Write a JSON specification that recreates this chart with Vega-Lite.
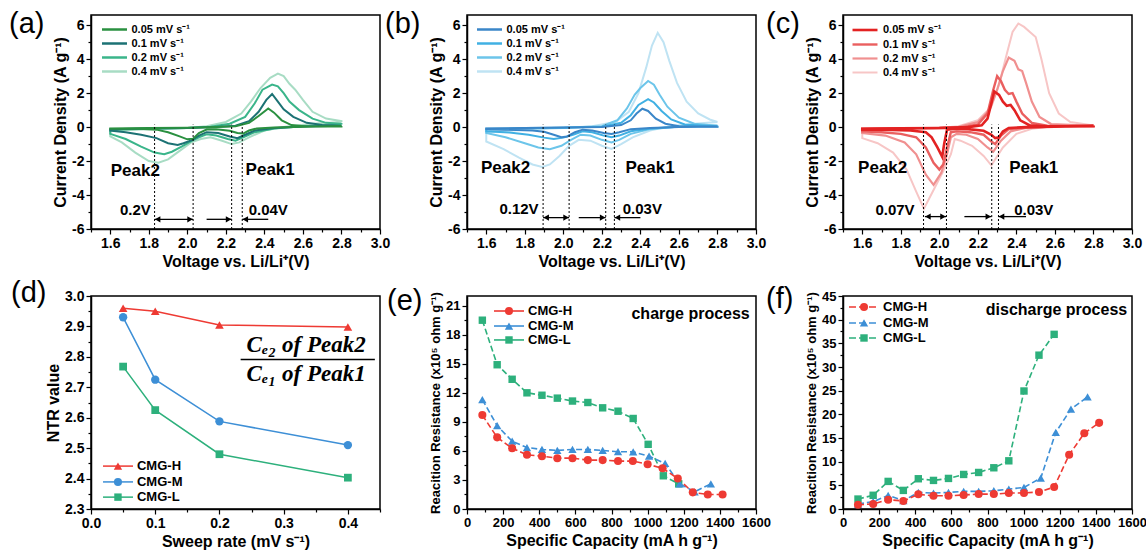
{
"$schema": "https://vega.github.io/schema/vega-lite/v6.json",
"background": "white",
"padding": {"left": 8, "top": 9, "right": 0, "bottom": 0},
"config": {
 "font": "Liberation Sans",
 "view": {"stroke": "black", "strokeWidth": 1.5},
 "axis": {"grid": false, "domainColor": "black", "domainWidth": 1.5, "tickColor": "black", "tickWidth": 1.2, "labelColor": "black", "labelFont": "Liberation Sans", "labelFontWeight": "bold", "labelFontSize": 14, "titleFont": "Liberation Sans", "titleFontWeight": "bold", "titleFontSize": 16, "titleColor": "black", "labelPadding": 2, "titlePadding": 3, "labelFlush": false, "labelOverlap": false},
 "legend": {"labelColor": "black", "labelFont": "Liberation Sans"}
},
"datasets": {
 "one": [{}],
 "cvA": [
  {"r":"0.4","v":2.8,"i":0.3},{"r":"0.4","v":2.65,"i":0.2},{"r":"0.4","v":2.5,"i":0.0},{"r":"0.4","v":2.4,"i":-0.2},{"r":"0.4","v":2.32,"i":-0.6},{"r":"0.4","v":2.27,"i":-0.9},{"r":"0.4","v":2.23,"i":-1.0},{"r":"0.4","v":2.18,"i":-0.8},{"r":"0.4","v":2.12,"i":-0.6},{"r":"0.4","v":2.07,"i":-0.7},{"r":"0.4","v":2.02,"i":-0.9},{"r":"0.4","v":1.96,"i":-1.4},{"r":"0.4","v":1.9,"i":-1.9},{"r":"0.4","v":1.85,"i":-2.1},{"r":"0.4","v":1.8,"i":-2.0},{"r":"0.4","v":1.73,"i":-1.5},{"r":"0.4","v":1.66,"i":-0.9},{"r":"0.4","v":1.6,"i":-0.55},{"r":"0.4","v":1.6,"i":-0.2},{"r":"0.4","v":1.8,"i":-0.12},{"r":"0.4","v":2.0,"i":-0.05},{"r":"0.4","v":2.1,"i":0.05},{"r":"0.4","v":2.2,"i":0.3},{"r":"0.4","v":2.28,"i":0.8},{"r":"0.4","v":2.33,"i":1.5},{"r":"0.4","v":2.38,"i":2.3},{"r":"0.4","v":2.43,"i":2.9},{"r":"0.4","v":2.47,"i":3.15},{"r":"0.4","v":2.5,"i":3.0},{"r":"0.4","v":2.53,"i":2.55},{"r":"0.4","v":2.56,"i":2.2},{"r":"0.4","v":2.6,"i":1.6},{"r":"0.4","v":2.65,"i":0.9},{"r":"0.4","v":2.72,"i":0.5},{"r":"0.4","v":2.8,"i":0.35},{"r":"0.4","v":2.8,"i":0.3},
  {"r":"0.2","v":2.8,"i":0.15},{"r":"0.2","v":2.6,"i":0.05},{"r":"0.2","v":2.45,"i":-0.08},{"r":"0.2","v":2.35,"i":-0.3},{"r":"0.2","v":2.29,"i":-0.6},{"r":"0.2","v":2.25,"i":-0.8},{"r":"0.2","v":2.21,"i":-0.7},{"r":"0.2","v":2.15,"i":-0.5},{"r":"0.2","v":2.1,"i":-0.42},{"r":"0.2","v":2.06,"i":-0.6},{"r":"0.2","v":2.02,"i":-0.82},{"r":"0.2","v":1.97,"i":-1.15},{"r":"0.2","v":1.92,"i":-1.45},{"r":"0.2","v":1.88,"i":-1.6},{"r":"0.2","v":1.83,"i":-1.5},{"r":"0.2","v":1.76,"i":-1.15},{"r":"0.2","v":1.68,"i":-0.7},{"r":"0.2","v":1.6,"i":-0.4},{"r":"0.2","v":1.6,"i":-0.15},{"r":"0.2","v":1.8,"i":-0.1},{"r":"0.2","v":2.0,"i":-0.05},{"r":"0.2","v":2.12,"i":0.02},{"r":"0.2","v":2.22,"i":0.2},{"r":"0.2","v":2.3,"i":0.6},{"r":"0.2","v":2.35,"i":1.4},{"r":"0.2","v":2.39,"i":2.2},{"r":"0.2","v":2.44,"i":2.5},{"r":"0.2","v":2.47,"i":2.4},{"r":"0.2","v":2.5,"i":2.0},{"r":"0.2","v":2.53,"i":1.5},{"r":"0.2","v":2.58,"i":1.0},{"r":"0.2","v":2.65,"i":0.5},{"r":"0.2","v":2.72,"i":0.25},{"r":"0.2","v":2.8,"i":0.18},{"r":"0.2","v":2.8,"i":0.15},
  {"r":"0.1","v":2.8,"i":0.08},{"r":"0.1","v":2.6,"i":0.03},{"r":"0.1","v":2.45,"i":-0.05},{"r":"0.1","v":2.35,"i":-0.2},{"r":"0.1","v":2.3,"i":-0.45},{"r":"0.1","v":2.26,"i":-0.65},{"r":"0.1","v":2.22,"i":-0.55},{"r":"0.1","v":2.16,"i":-0.35},{"r":"0.1","v":2.1,"i":-0.3},{"r":"0.1","v":2.06,"i":-0.5},{"r":"0.1","v":2.02,"i":-0.78},{"r":"0.1","v":1.98,"i":-0.95},{"r":"0.1","v":1.95,"i":-1.05},{"r":"0.1","v":1.9,"i":-0.95},{"r":"0.1","v":1.84,"i":-0.65},{"r":"0.1","v":1.76,"i":-0.45},{"r":"0.1","v":1.68,"i":-0.3},{"r":"0.1","v":1.6,"i":-0.2},{"r":"0.1","v":1.6,"i":-0.12},{"r":"0.1","v":1.8,"i":-0.08},{"r":"0.1","v":2.0,"i":-0.05},{"r":"0.1","v":2.15,"i":0.0},{"r":"0.1","v":2.25,"i":0.08},{"r":"0.1","v":2.32,"i":0.35},{"r":"0.1","v":2.37,"i":0.9},{"r":"0.1","v":2.41,"i":1.6},{"r":"0.1","v":2.44,"i":1.95},{"r":"0.1","v":2.47,"i":1.5},{"r":"0.1","v":2.5,"i":1.05},{"r":"0.1","v":2.55,"i":0.6},{"r":"0.1","v":2.62,"i":0.25},{"r":"0.1","v":2.7,"i":0.12},{"r":"0.1","v":2.8,"i":0.08},
  {"r":"0.05","v":2.8,"i":0.06},{"r":"0.05","v":2.6,"i":0.02},{"r":"0.05","v":2.45,"i":-0.02},{"r":"0.05","v":2.36,"i":-0.08},{"r":"0.05","v":2.32,"i":-0.2},{"r":"0.05","v":2.29,"i":-0.38},{"r":"0.05","v":2.26,"i":-0.35},{"r":"0.05","v":2.22,"i":-0.22},{"r":"0.05","v":2.15,"i":-0.12},{"r":"0.05","v":2.1,"i":-0.14},{"r":"0.05","v":2.06,"i":-0.35},{"r":"0.05","v":2.03,"i":-0.68},{"r":"0.05","v":2.0,"i":-0.72},{"r":"0.05","v":1.96,"i":-0.55},{"r":"0.05","v":1.9,"i":-0.3},{"r":"0.05","v":1.84,"i":-0.15},{"r":"0.05","v":1.75,"i":-0.1},{"r":"0.05","v":1.6,"i":-0.1},{"r":"0.05","v":1.6,"i":-0.08},{"r":"0.05","v":1.8,"i":-0.06},{"r":"0.05","v":2.0,"i":-0.04},{"r":"0.05","v":2.15,"i":0.0},{"r":"0.05","v":2.25,"i":0.05},{"r":"0.05","v":2.32,"i":0.25},{"r":"0.05","v":2.37,"i":0.65},{"r":"0.05","v":2.42,"i":1.1},{"r":"0.05","v":2.45,"i":0.85},{"r":"0.05","v":2.49,"i":0.4},{"r":"0.05","v":2.54,"i":0.12},{"r":"0.05","v":2.62,"i":0.04},{"r":"0.05","v":2.8,"i":0.04},{"r":"0.05","v":2.8,"i":0.06}
 ],
 "cvB": [
  {"r":"0.4","v":2.8,"i":0.3},{"r":"0.4","v":2.68,"i":0.2},{"r":"0.4","v":2.55,"i":0.05},{"r":"0.4","v":2.45,"i":-0.2},{"r":"0.4","v":2.36,"i":-0.6},{"r":"0.4","v":2.3,"i":-1.0},{"r":"0.4","v":2.25,"i":-1.28},{"r":"0.4","v":2.2,"i":-1.1},{"r":"0.4","v":2.14,"i":-0.8},{"r":"0.4","v":2.08,"i":-0.75},{"r":"0.4","v":2.03,"i":-1.1},{"r":"0.4","v":1.98,"i":-1.7},{"r":"0.4","v":1.93,"i":-2.2},{"r":"0.4","v":1.89,"i":-2.35},{"r":"0.4","v":1.84,"i":-2.2},{"r":"0.4","v":1.77,"i":-1.8},{"r":"0.4","v":1.69,"i":-1.3},{"r":"0.4","v":1.6,"i":-0.85},{"r":"0.4","v":1.6,"i":-0.3},{"r":"0.4","v":1.8,"i":-0.15},{"r":"0.4","v":2.0,"i":-0.05},{"r":"0.4","v":2.15,"i":0.05},{"r":"0.4","v":2.27,"i":0.3},{"r":"0.4","v":2.34,"i":0.9},{"r":"0.4","v":2.39,"i":2.0},{"r":"0.4","v":2.43,"i":3.5},{"r":"0.4","v":2.46,"i":4.8},{"r":"0.4","v":2.49,"i":5.55},{"r":"0.4","v":2.52,"i":5.0},{"r":"0.4","v":2.55,"i":3.9},{"r":"0.4","v":2.59,"i":2.6},{"r":"0.4","v":2.64,"i":1.5},{"r":"0.4","v":2.7,"i":0.8},{"r":"0.4","v":2.76,"i":0.45},{"r":"0.4","v":2.8,"i":0.3},
  {"r":"0.2","v":2.8,"i":0.1},{"r":"0.2","v":2.6,"i":0.03},{"r":"0.2","v":2.45,"i":-0.12},{"r":"0.2","v":2.35,"i":-0.4},{"r":"0.2","v":2.29,"i":-0.75},{"r":"0.2","v":2.25,"i":-0.9},{"r":"0.2","v":2.2,"i":-0.75},{"r":"0.2","v":2.14,"i":-0.5},{"r":"0.2","v":2.09,"i":-0.45},{"r":"0.2","v":2.04,"i":-0.75},{"r":"0.2","v":1.99,"i":-1.1},{"r":"0.2","v":1.93,"i":-1.3},{"r":"0.2","v":1.87,"i":-1.2},{"r":"0.2","v":1.8,"i":-0.95},{"r":"0.2","v":1.7,"i":-0.6},{"r":"0.2","v":1.6,"i":-0.35},{"r":"0.2","v":1.6,"i":-0.15},{"r":"0.2","v":1.8,"i":-0.08},{"r":"0.2","v":2.0,"i":-0.04},{"r":"0.2","v":2.2,"i":0.05},{"r":"0.2","v":2.28,"i":0.4},{"r":"0.2","v":2.33,"i":1.1},{"r":"0.2","v":2.37,"i":1.9},{"r":"0.2","v":2.4,"i":2.3},{"r":"0.2","v":2.44,"i":2.72},{"r":"0.2","v":2.47,"i":2.5},{"r":"0.2","v":2.5,"i":1.9},{"r":"0.2","v":2.54,"i":1.2},{"r":"0.2","v":2.6,"i":0.55},{"r":"0.2","v":2.68,"i":0.2},{"r":"0.2","v":2.8,"i":0.08},{"r":"0.2","v":2.8,"i":0.1},
  {"r":"0.1","v":2.8,"i":0.05},{"r":"0.1","v":2.6,"i":0.02},{"r":"0.1","v":2.45,"i":-0.08},{"r":"0.1","v":2.35,"i":-0.25},{"r":"0.1","v":2.29,"i":-0.5},{"r":"0.1","v":2.25,"i":-0.6},{"r":"0.1","v":2.21,"i":-0.5},{"r":"0.1","v":2.15,"i":-0.3},{"r":"0.1","v":2.1,"i":-0.25},{"r":"0.1","v":2.05,"i":-0.45},{"r":"0.1","v":2.0,"i":-0.62},{"r":"0.1","v":1.95,"i":-0.7},{"r":"0.1","v":1.9,"i":-0.62},{"r":"0.1","v":1.82,"i":-0.45},{"r":"0.1","v":1.72,"i":-0.32},{"r":"0.1","v":1.6,"i":-0.25},{"r":"0.1","v":1.6,"i":-0.1},{"r":"0.1","v":1.8,"i":-0.06},{"r":"0.1","v":2.0,"i":-0.04},{"r":"0.1","v":2.2,"i":0.02},{"r":"0.1","v":2.3,"i":0.25},{"r":"0.1","v":2.35,"i":0.7},{"r":"0.1","v":2.39,"i":1.3},{"r":"0.1","v":2.44,"i":1.65},{"r":"0.1","v":2.47,"i":1.45},{"r":"0.1","v":2.51,"i":0.95},{"r":"0.1","v":2.56,"i":0.45},{"r":"0.1","v":2.63,"i":0.15},{"r":"0.1","v":2.8,"i":0.04},{"r":"0.1","v":2.8,"i":0.05},
  {"r":"0.05","v":2.8,"i":0.03},{"r":"0.05","v":2.6,"i":0.0},{"r":"0.05","v":2.45,"i":-0.05},{"r":"0.05","v":2.35,"i":-0.12},{"r":"0.05","v":2.29,"i":-0.3},{"r":"0.05","v":2.25,"i":-0.4},{"r":"0.05","v":2.21,"i":-0.35},{"r":"0.05","v":2.15,"i":-0.2},{"r":"0.05","v":2.1,"i":-0.15},{"r":"0.05","v":2.06,"i":-0.3},{"r":"0.05","v":2.02,"i":-0.55},{"r":"0.05","v":1.99,"i":-0.6},{"r":"0.05","v":1.95,"i":-0.45},{"r":"0.05","v":1.9,"i":-0.28},{"r":"0.05","v":1.84,"i":-0.2},{"r":"0.05","v":1.7,"i":-0.15},{"r":"0.05","v":1.6,"i":-0.12},{"r":"0.05","v":1.6,"i":-0.08},{"r":"0.05","v":1.8,"i":-0.05},{"r":"0.05","v":2.0,"i":-0.03},{"r":"0.05","v":2.2,"i":0.0},{"r":"0.05","v":2.3,"i":0.12},{"r":"0.05","v":2.35,"i":0.4},{"r":"0.05","v":2.38,"i":0.8},{"r":"0.05","v":2.41,"i":1.08},{"r":"0.05","v":2.44,"i":0.95},{"r":"0.05","v":2.48,"i":0.5},{"r":"0.05","v":2.53,"i":0.2},{"r":"0.05","v":2.6,"i":0.05},{"r":"0.05","v":2.8,"i":0.02},{"r":"0.05","v":2.8,"i":0.03}
 ],
 "cvC": [
  {"r":"0.4","v":2.8,"i":0.12},{"r":"0.4","v":2.6,"i":0.06},{"r":"0.4","v":2.48,"i":-0.1},{"r":"0.4","v":2.4,"i":-0.4},{"r":"0.4","v":2.33,"i":-1.2},{"r":"0.4","v":2.27,"i":-2.25},{"r":"0.4","v":2.23,"i":-1.7},{"r":"0.4","v":2.17,"i":-1.1},{"r":"0.4","v":2.11,"i":-0.8},{"r":"0.4","v":2.08,"i":-0.7},{"r":"0.4","v":2.06,"i":-1.6},{"r":"0.4","v":2.02,"i":-2.6},{"r":"0.4","v":1.97,"i":-3.7},{"r":"0.4","v":1.92,"i":-4.8},{"r":"0.4","v":1.88,"i":-3.8},{"r":"0.4","v":1.83,"i":-2.5},{"r":"0.4","v":1.76,"i":-1.5},{"r":"0.4","v":1.68,"i":-0.95},{"r":"0.4","v":1.6,"i":-0.65},{"r":"0.4","v":1.6,"i":-0.2},{"r":"0.4","v":1.8,"i":-0.1},{"r":"0.4","v":2.0,"i":-0.05},{"r":"0.4","v":2.1,"i":0.05},{"r":"0.4","v":2.2,"i":0.4},{"r":"0.4","v":2.27,"i":1.2},{"r":"0.4","v":2.31,"i":2.5},{"r":"0.4","v":2.35,"i":4.3},{"r":"0.4","v":2.38,"i":5.6},{"r":"0.4","v":2.41,"i":6.1},{"r":"0.4","v":2.44,"i":5.9},{"r":"0.4","v":2.47,"i":5.6},{"r":"0.4","v":2.5,"i":5.3},{"r":"0.4","v":2.53,"i":4.0},{"r":"0.4","v":2.57,"i":2.0},{"r":"0.4","v":2.62,"i":0.8},{"r":"0.4","v":2.68,"i":0.3},{"r":"0.4","v":2.8,"i":0.1},{"r":"0.4","v":2.8,"i":0.12},
  {"r":"0.2","v":2.8,"i":0.1},{"r":"0.2","v":2.6,"i":0.04},{"r":"0.2","v":2.45,"i":-0.05},{"r":"0.2","v":2.37,"i":-0.25},{"r":"0.2","v":2.32,"i":-0.8},{"r":"0.2","v":2.28,"i":-1.45},{"r":"0.2","v":2.25,"i":-1.2},{"r":"0.2","v":2.2,"i":-0.7},{"r":"0.2","v":2.14,"i":-0.45},{"r":"0.2","v":2.09,"i":-0.4},{"r":"0.2","v":2.06,"i":-0.6},{"r":"0.2","v":2.04,"i":-1.6},{"r":"0.2","v":2.01,"i":-2.7},{"r":"0.2","v":1.97,"i":-3.4},{"r":"0.2","v":1.93,"i":-2.8},{"r":"0.2","v":1.88,"i":-1.6},{"r":"0.2","v":1.82,"i":-0.9},{"r":"0.2","v":1.72,"i":-0.5},{"r":"0.2","v":1.6,"i":-0.35},{"r":"0.2","v":1.6,"i":-0.12},{"r":"0.2","v":1.8,"i":-0.08},{"r":"0.2","v":2.0,"i":-0.05},{"r":"0.2","v":2.1,"i":0.02},{"r":"0.2","v":2.2,"i":0.3},{"r":"0.2","v":2.26,"i":1.0},{"r":"0.2","v":2.3,"i":2.2},{"r":"0.2","v":2.33,"i":3.3},{"r":"0.2","v":2.36,"i":4.1},{"r":"0.2","v":2.39,"i":3.9},{"r":"0.2","v":2.41,"i":3.4},{"r":"0.2","v":2.43,"i":3.3},{"r":"0.2","v":2.45,"i":2.6},{"r":"0.2","v":2.48,"i":1.5},{"r":"0.2","v":2.52,"i":0.6},{"r":"0.2","v":2.58,"i":0.18},{"r":"0.2","v":2.8,"i":0.08},{"r":"0.2","v":2.8,"i":0.1},
  {"r":"0.1","v":2.8,"i":0.08},{"r":"0.1","v":2.6,"i":0.03},{"r":"0.1","v":2.45,"i":-0.02},{"r":"0.1","v":2.36,"i":-0.12},{"r":"0.1","v":2.32,"i":-0.5},{"r":"0.1","v":2.29,"i":-1.0},{"r":"0.1","v":2.27,"i":-0.85},{"r":"0.1","v":2.23,"i":-0.45},{"r":"0.1","v":2.16,"i":-0.3},{"r":"0.1","v":2.09,"i":-0.25},{"r":"0.1","v":2.06,"i":-0.3},{"r":"0.1","v":2.04,"i":-1.2},{"r":"0.1","v":2.02,"i":-2.2},{"r":"0.1","v":2.0,"i":-2.5},{"r":"0.1","v":1.97,"i":-2.1},{"r":"0.1","v":1.93,"i":-1.2},{"r":"0.1","v":1.88,"i":-0.6},{"r":"0.1","v":1.8,"i":-0.4},{"r":"0.1","v":1.7,"i":-0.3},{"r":"0.1","v":1.6,"i":-0.25},{"r":"0.1","v":1.6,"i":-0.1},{"r":"0.1","v":1.8,"i":-0.07},{"r":"0.1","v":2.0,"i":-0.05},{"r":"0.1","v":2.12,"i":0.0},{"r":"0.1","v":2.2,"i":0.15},{"r":"0.1","v":2.25,"i":0.8},{"r":"0.1","v":2.28,"i":2.2},{"r":"0.1","v":2.3,"i":3.0},{"r":"0.1","v":2.32,"i":2.7},{"r":"0.1","v":2.34,"i":2.2},{"r":"0.1","v":2.36,"i":1.95},{"r":"0.1","v":2.38,"i":2.0},{"r":"0.1","v":2.4,"i":1.5},{"r":"0.1","v":2.43,"i":0.8},{"r":"0.1","v":2.48,"i":0.25},{"r":"0.1","v":2.56,"i":0.08},{"r":"0.1","v":2.8,"i":0.06},{"r":"0.1","v":2.8,"i":0.08},
  {"r":"0.05","v":2.8,"i":0.08},{"r":"0.05","v":2.6,"i":0.03},{"r":"0.05","v":2.45,"i":0.0},{"r":"0.05","v":2.36,"i":-0.05},{"r":"0.05","v":2.33,"i":-0.25},{"r":"0.05","v":2.31,"i":-0.6},{"r":"0.05","v":2.29,"i":-0.65},{"r":"0.05","v":2.27,"i":-0.45},{"r":"0.05","v":2.23,"i":-0.22},{"r":"0.05","v":2.15,"i":-0.12},{"r":"0.05","v":2.08,"i":-0.1},{"r":"0.05","v":2.04,"i":-0.15},{"r":"0.05","v":2.025,"i":-1.0},{"r":"0.05","v":2.015,"i":-1.75},{"r":"0.05","v":1.99,"i":-1.2},{"r":"0.05","v":1.96,"i":-0.6},{"r":"0.05","v":1.93,"i":-0.3},{"r":"0.05","v":1.85,"i":-0.2},{"r":"0.05","v":1.7,"i":-0.15},{"r":"0.05","v":1.6,"i":-0.15},{"r":"0.05","v":1.6,"i":-0.1},{"r":"0.05","v":1.8,"i":-0.07},{"r":"0.05","v":2.0,"i":-0.05},{"r":"0.05","v":2.15,"i":0.0},{"r":"0.05","v":2.22,"i":0.1},{"r":"0.05","v":2.25,"i":0.5},{"r":"0.05","v":2.27,"i":1.4},{"r":"0.05","v":2.285,"i":2.1},{"r":"0.05","v":2.31,"i":1.9},{"r":"0.05","v":2.33,"i":1.5},{"r":"0.05","v":2.35,"i":1.25},{"r":"0.05","v":2.37,"i":1.3},{"r":"0.05","v":2.39,"i":1.0},{"r":"0.05","v":2.42,"i":0.4},{"r":"0.05","v":2.47,"i":0.1},{"r":"0.05","v":2.55,"i":0.04},{"r":"0.05","v":2.8,"i":0.05},{"r":"0.05","v":2.8,"i":0.08}
 ],
 "ntr": [
  {"g":"CMG-H","s":0.05,"n":2.96},{"g":"CMG-H","s":0.1,"n":2.95},{"g":"CMG-H","s":0.2,"n":2.905},{"g":"CMG-H","s":0.4,"n":2.898},
  {"g":"CMG-M","s":0.05,"n":2.93},{"g":"CMG-M","s":0.1,"n":2.725},{"g":"CMG-M","s":0.2,"n":2.588},{"g":"CMG-M","s":0.4,"n":2.51},
  {"g":"CMG-L","s":0.05,"n":2.768},{"g":"CMG-L","s":0.1,"n":2.625},{"g":"CMG-L","s":0.2,"n":2.48},{"g":"CMG-L","s":0.4,"n":2.403}
 ],
 "chg": [
  {"g":"CMG-L","c":85,"z":19.5},{"g":"CMG-L","c":167,"z":14.9},{"g":"CMG-L","c":250,"z":13.4},{"g":"CMG-L","c":332,"z":12.0},{"g":"CMG-L","c":415,"z":11.75},{"g":"CMG-L","c":500,"z":11.45},{"g":"CMG-L","c":584,"z":11.15},{"g":"CMG-L","c":669,"z":11.0},{"g":"CMG-L","c":751,"z":10.45},{"g":"CMG-L","c":836,"z":10.1},{"g":"CMG-L","c":920,"z":9.35},{"g":"CMG-L","c":1003,"z":6.68},{"g":"CMG-L","c":1087,"z":3.43},{"g":"CMG-L","c":1172,"z":2.6},
  {"g":"CMG-M","c":85,"z":11.3},{"g":"CMG-M","c":167,"z":8.6},{"g":"CMG-M","c":250,"z":7.0},{"g":"CMG-M","c":332,"z":6.35},{"g":"CMG-M","c":415,"z":6.15},{"g":"CMG-M","c":500,"z":6.05},{"g":"CMG-M","c":584,"z":6.15},{"g":"CMG-M","c":669,"z":6.15},{"g":"CMG-M","c":751,"z":6.05},{"g":"CMG-M","c":836,"z":5.92},{"g":"CMG-M","c":920,"z":5.9},{"g":"CMG-M","c":1008,"z":5.45},{"g":"CMG-M","c":1097,"z":4.7},{"g":"CMG-M","c":1178,"z":2.6},{"g":"CMG-M","c":1260,"z":1.78},{"g":"CMG-M","c":1350,"z":2.6},
  {"g":"CMG-H","c":85,"z":9.7},{"g":"CMG-H","c":167,"z":7.4},{"g":"CMG-H","c":250,"z":6.27},{"g":"CMG-H","c":332,"z":5.6},{"g":"CMG-H","c":415,"z":5.45},{"g":"CMG-H","c":500,"z":5.25},{"g":"CMG-H","c":584,"z":5.25},{"g":"CMG-H","c":669,"z":5.05},{"g":"CMG-H","c":751,"z":5.05},{"g":"CMG-H","c":836,"z":4.95},{"g":"CMG-H","c":918,"z":4.95},{"g":"CMG-H","c":1000,"z":4.62},{"g":"CMG-H","c":1083,"z":4.2},{"g":"CMG-H","c":1167,"z":3.15},{"g":"CMG-H","c":1250,"z":1.72},{"g":"CMG-H","c":1333,"z":1.5},{"g":"CMG-H","c":1415,"z":1.5}
 ],
 "dis": [
  {"g":"CMG-L","c":83,"z":2.1},{"g":"CMG-L","c":167,"z":2.9},{"g":"CMG-L","c":250,"z":5.83},{"g":"CMG-L","c":334,"z":3.93},{"g":"CMG-L","c":417,"z":6.39},{"g":"CMG-L","c":501,"z":6.04},{"g":"CMG-L","c":584,"z":6.46},{"g":"CMG-L","c":668,"z":7.3},{"g":"CMG-L","c":751,"z":7.72},{"g":"CMG-L","c":835,"z":8.71},{"g":"CMG-L","c":918,"z":10.18},{"g":"CMG-L","c":1002,"z":24.93},{"g":"CMG-L","c":1085,"z":32.5},{"g":"CMG-L","c":1169,"z":36.9},
  {"g":"CMG-M","c":83,"z":1.05},{"g":"CMG-M","c":167,"z":1.55},{"g":"CMG-M","c":250,"z":2.88},{"g":"CMG-M","c":334,"z":1.76},{"g":"CMG-M","c":417,"z":3.5},{"g":"CMG-M","c":501,"z":3.37},{"g":"CMG-M","c":584,"z":3.5},{"g":"CMG-M","c":668,"z":3.72},{"g":"CMG-M","c":751,"z":3.72},{"g":"CMG-M","c":835,"z":3.86},{"g":"CMG-M","c":918,"z":4.2},{"g":"CMG-M","c":1002,"z":4.56},{"g":"CMG-M","c":1095,"z":6.53},{"g":"CMG-M","c":1178,"z":16.2},{"g":"CMG-M","c":1262,"z":21.1},{"g":"CMG-M","c":1354,"z":23.7},
  {"g":"CMG-H","c":83,"z":0.9},{"g":"CMG-H","c":167,"z":1.05},{"g":"CMG-H","c":250,"z":1.97},{"g":"CMG-H","c":334,"z":1.7},{"g":"CMG-H","c":417,"z":3.1},{"g":"CMG-H","c":501,"z":2.8},{"g":"CMG-H","c":584,"z":2.8},{"g":"CMG-H","c":668,"z":2.95},{"g":"CMG-H","c":751,"z":3.15},{"g":"CMG-H","c":835,"z":3.15},{"g":"CMG-H","c":918,"z":3.37},{"g":"CMG-H","c":1002,"z":3.4},{"g":"CMG-H","c":1085,"z":3.6},{"g":"CMG-H","c":1169,"z":4.63},{"g":"CMG-H","c":1252,"z":11.45},{"g":"CMG-H","c":1336,"z":16.0},{"g":"CMG-H","c":1418,"z":18.2}
 ]
},
"columns": 3,
"spacing": {"row": 67, "column": 87},
"bounds": "flush",
"resolve": {"scale": {"color": "independent", "shape": "independent", "strokeWidth": "independent"}},
"concat": [
  {"width": 289, "height": 214,
   "title": {"text": "(a)", "anchor": "start", "frame": "group", "dx": -82, "dy": 47, "offset": 0, "baseline": "alphabetic", "fontSize": 29, "fontWeight": "normal", "color": "black"},
   "layer": [
    {"data": {"name": "cvA"}, "mark": {"type": "line", "strokeWidth": 2}, "encoding": {
      "x": {"field": "v", "type": "quantitative", "scale": {"domain": [1.5, 3.0], "nice": false, "zero": false}, "axis": {"title": "Voltage vs. Li/Li⁺(V)", "tickCount": 100, "labelOverlap": false, "values": [1.5,1.6,1.7,1.8,1.9,2.0,2.1,2.2,2.3,2.4,2.5,2.6,2.7,2.8,2.9,3.0], "labelExpr": "round(datum.value*10) % 2 == 0 ? format(datum.value, '.1f') : ''", "tickSize": {"condition": {"test": "round(datum.value*10) % 2 == 0", "value": 5}, "value": 3}}},
      "y": {"field": "i", "type": "quantitative", "scale": {"domain": [-6, 6.6], "nice": false, "zero": false}, "axis": {"title": "Current Density (A g⁻¹)", "tickCount": 100, "labelOverlap": false, "values": [-6,-5,-4,-3,-2,-1,0,1,2,3,4,5,6], "labelExpr": "datum.value % 2 == 0 ? '' + datum.value : ''", "tickSize": {"condition": {"test": "datum.value % 2 == 0", "value": 5}, "value": 3}}},
      "color": {"field": "r", "type": "nominal", "scale": {"domain": ["0.05","0.1","0.2","0.4"], "range": ["#2a9040","#1c7274","#3ab58a","#a8dcc4"]}, "legend": {"title": null, "orient": "none", "legendX": 16, "legendY": 7, "symbolType": "M-2,0H2", "symbolSize": 156, "symbolStrokeWidth": 2.5, "labelFontSize": 11, "labelFontWeight": "bold", "labelOffset": 9.5, "rowPadding": 1, "padding": 0, "labelExpr": "datum.label + ' mV s⁻¹'"}},
      "order": {"value": null}}},
    {"data": {"values": [{"v": 1.83}, {"v": 2.03}, {"v": 2.23}, {"v": 2.285}]}, "mark": {"type": "rule", "strokeDash": [2, 2], "strokeWidth": 1, "color": "black"}, "encoding": {"x": {"field": "v", "type": "quantitative"}, "y": {"datum": -6}, "y2": {"datum": 0.15}}},
    {"data": {"values": [{"v": 1.83, "v2": 2.03}, {"v": 2.1, "v2": 2.23}, {"v": 2.285, "v2": 2.42}]}, "mark": {"type": "rule", "strokeWidth": 1.3, "color": "black"}, "encoding": {"x": {"field": "v", "type": "quantitative"}, "x2": {"field": "v2"}, "y": {"datum": -5.43}}},
    {"data": {"values": [{"v": 1.846}, {"v": 2.301}]}, "mark": {"type": "point", "shape": "triangle-left", "filled": true, "color": "black", "size": 40, "opacity": 1}, "encoding": {"x": {"field": "v", "type": "quantitative"}, "y": {"datum": -5.43}}},
    {"data": {"values": [{"v": 2.014}, {"v": 2.214}]}, "mark": {"type": "point", "shape": "triangle-right", "filled": true, "color": "black", "size": 40, "opacity": 1}, "encoding": {"x": {"field": "v", "type": "quantitative"}, "y": {"datum": -5.43}}},
    {"data": {"values": [{"v": 1.73, "i": -2.6, "t": "Peak2"}, {"v": 2.43, "i": -2.55, "t": "Peak1"}]}, "mark": {"type": "text", "fontSize": 17, "fontWeight": "bold", "color": "black"}, "encoding": {"x": {"field": "v", "type": "quantitative"}, "y": {"field": "i", "type": "quantitative"}, "text": {"field": "t"}}},
    {"data": {"values": [{"v": 1.73, "i": -4.9, "t": "0.2V"}, {"v": 2.42, "i": -4.9, "t": "0.04V"}]}, "mark": {"type": "text", "fontSize": 15, "fontWeight": "bold", "color": "black"}, "encoding": {"x": {"field": "v", "type": "quantitative"}, "y": {"field": "i", "type": "quantitative"}, "text": {"field": "t"}}}
   ]},
  {"width": 289, "height": 214,
   "title": {"text": "(b)", "anchor": "start", "frame": "group", "dx": -82, "dy": 47, "offset": 0, "baseline": "alphabetic", "fontSize": 29, "fontWeight": "normal", "color": "black"},
   "layer": [
    {"data": {"name": "cvB"}, "mark": {"type": "line", "strokeWidth": 2}, "encoding": {
      "x": {"field": "v", "type": "quantitative", "scale": {"domain": [1.5, 3.0], "nice": false, "zero": false}, "axis": {"title": "Voltage vs. Li/Li⁺(V)", "tickCount": 100, "labelOverlap": false, "values": [1.5,1.6,1.7,1.8,1.9,2.0,2.1,2.2,2.3,2.4,2.5,2.6,2.7,2.8,2.9,3.0], "labelExpr": "round(datum.value*10) % 2 == 0 ? format(datum.value, '.1f') : ''", "tickSize": {"condition": {"test": "round(datum.value*10) % 2 == 0", "value": 5}, "value": 3}}},
      "y": {"field": "i", "type": "quantitative", "scale": {"domain": [-6, 6.6], "nice": false, "zero": false}, "axis": {"title": "Current Density (A g⁻¹)", "tickCount": 100, "labelOverlap": false, "values": [-6,-5,-4,-3,-2,-1,0,1,2,3,4,5,6], "labelExpr": "datum.value % 2 == 0 ? '' + datum.value : ''", "tickSize": {"condition": {"test": "datum.value % 2 == 0", "value": 5}, "value": 3}}},
      "color": {"field": "r", "type": "nominal", "scale": {"domain": ["0.05","0.1","0.2","0.4"], "range": ["#3a86c8","#40b0e3","#6cc5ea","#bfe3f3"]}, "legend": {"title": null, "orient": "none", "legendX": 15, "legendY": 7, "symbolType": "M-2,0H2", "symbolSize": 156, "symbolStrokeWidth": 2.5, "labelFontSize": 11, "labelFontWeight": "bold", "labelOffset": 9.5, "rowPadding": 1, "padding": 0, "labelExpr": "datum.label + ' mV s⁻¹'"}},
      "order": {"value": null}}},
    {"data": {"values": [{"v": 1.895}, {"v": 2.03}, {"v": 2.22}, {"v": 2.265}]}, "mark": {"type": "rule", "strokeDash": [2, 2], "strokeWidth": 1, "color": "black"}, "encoding": {"x": {"field": "v", "type": "quantitative"}, "y": {"datum": -6}, "y2": {"datum": 0.15}}},
    {"data": {"values": [{"v": 1.895, "v2": 2.03}, {"v": 2.08, "v2": 2.22}, {"v": 2.265, "v2": 2.4}]}, "mark": {"type": "rule", "strokeWidth": 1.3, "color": "black"}, "encoding": {"x": {"field": "v", "type": "quantitative"}, "x2": {"field": "v2"}, "y": {"datum": -5.33}}},
    {"data": {"values": [{"v": 1.911}, {"v": 2.281}]}, "mark": {"type": "point", "shape": "triangle-left", "filled": true, "color": "black", "size": 40, "opacity": 1}, "encoding": {"x": {"field": "v", "type": "quantitative"}, "y": {"datum": -5.33}}},
    {"data": {"values": [{"v": 2.014}, {"v": 2.204}]}, "mark": {"type": "point", "shape": "triangle-right", "filled": true, "color": "black", "size": 40, "opacity": 1}, "encoding": {"x": {"field": "v", "type": "quantitative"}, "y": {"datum": -5.33}}},
    {"data": {"values": [{"v": 1.7, "i": -2.4, "t": "Peak2"}, {"v": 2.45, "i": -2.4, "t": "Peak1"}]}, "mark": {"type": "text", "fontSize": 17, "fontWeight": "bold", "color": "black"}, "encoding": {"x": {"field": "v", "type": "quantitative"}, "y": {"field": "i", "type": "quantitative"}, "text": {"field": "t"}}},
    {"data": {"values": [{"v": 1.77, "i": -4.85, "t": "0.12V"}, {"v": 2.41, "i": -4.85, "t": "0.03V"}]}, "mark": {"type": "text", "fontSize": 15, "fontWeight": "bold", "color": "black"}, "encoding": {"x": {"field": "v", "type": "quantitative"}, "y": {"field": "i", "type": "quantitative"}, "text": {"field": "t"}}}
   ]},
  {"width": 289, "height": 214,
   "title": {"text": "(c)", "anchor": "start", "frame": "group", "dx": -77, "dy": 47, "offset": 0, "baseline": "alphabetic", "fontSize": 29, "fontWeight": "normal", "color": "black"},
   "layer": [
    {"data": {"name": "cvC"}, "mark": {"type": "line"}, "encoding": {
      "x": {"field": "v", "type": "quantitative", "scale": {"domain": [1.5, 3.0], "nice": false, "zero": false}, "axis": {"title": "Voltage vs. Li/Li⁺(V)", "tickCount": 100, "labelOverlap": false, "values": [1.5,1.6,1.7,1.8,1.9,2.0,2.1,2.2,2.3,2.4,2.5,2.6,2.7,2.8,2.9,3.0], "labelExpr": "round(datum.value*10) % 2 == 0 ? format(datum.value, '.1f') : ''", "tickSize": {"condition": {"test": "round(datum.value*10) % 2 == 0", "value": 5}, "value": 3}}},
      "y": {"field": "i", "type": "quantitative", "scale": {"domain": [-6, 6.6], "nice": false, "zero": false}, "axis": {"title": "Current Density (A g⁻¹)", "tickCount": 100, "labelOverlap": false, "values": [-6,-5,-4,-3,-2,-1,0,1,2,3,4,5,6], "labelExpr": "datum.value % 2 == 0 ? '' + datum.value : ''", "tickSize": {"condition": {"test": "datum.value % 2 == 0", "value": 5}, "value": 3}}},
      "color": {"field": "r", "type": "nominal", "scale": {"domain": ["0.05","0.1","0.2","0.4"], "range": ["#e32222","#ea5f5f","#f09090","#f7c6c6"]}, "legend": {"title": null, "orient": "none", "legendX": 14, "legendY": 7, "symbolType": "M-2,0H2", "symbolSize": 156, "symbolStrokeWidth": 2.5, "labelFontSize": 11, "labelFontWeight": "bold", "labelOffset": 10, "rowPadding": 1, "padding": 0, "labelExpr": "datum.label + ' mV s⁻¹'"}},
      "strokeWidth": {"field": "r", "type": "nominal", "scale": {"domain": ["0.05","0.1","0.2","0.4"], "range": [2.6, 2, 2, 2]}, "legend": null},
      "order": {"value": null}}},
    {"data": {"values": [{"v": 1.918}, {"v": 2.037}, {"v": 2.272}, {"v": 2.307}]}, "mark": {"type": "rule", "strokeDash": [2, 2], "strokeWidth": 1, "color": "black"}, "encoding": {"x": {"field": "v", "type": "quantitative"}, "y": {"datum": -6}, "y2": {"datum": 0.15}}},
    {"data": {"values": [{"v": 1.925, "v2": 2.035}, {"v": 2.13, "v2": 2.27}, {"v": 2.307, "v2": 2.45}]}, "mark": {"type": "rule", "strokeWidth": 1.3, "color": "black"}, "encoding": {"x": {"field": "v", "type": "quantitative"}, "x2": {"field": "v2"}, "y": {"datum": -5.27}}},
    {"data": {"values": [{"v": 1.941}, {"v": 2.323}]}, "mark": {"type": "point", "shape": "triangle-left", "filled": true, "color": "black", "size": 40, "opacity": 1}, "encoding": {"x": {"field": "v", "type": "quantitative"}, "y": {"datum": -5.27}}},
    {"data": {"values": [{"v": 2.019}, {"v": 2.254}]}, "mark": {"type": "point", "shape": "triangle-right", "filled": true, "color": "black", "size": 40, "opacity": 1}, "encoding": {"x": {"field": "v", "type": "quantitative"}, "y": {"datum": -5.27}}},
    {"data": {"values": [{"v": 1.706, "i": -2.43, "t": "Peak2"}, {"v": 2.49, "i": -2.43, "t": "Peak1"}]}, "mark": {"type": "text", "fontSize": 17, "fontWeight": "bold", "color": "black"}, "encoding": {"x": {"field": "v", "type": "quantitative"}, "y": {"field": "i", "type": "quantitative"}, "text": {"field": "t"}}},
    {"data": {"values": [{"v": 1.77, "i": -4.88, "t": "0.07V"}, {"v": 2.49, "i": -4.88, "t": "0.03V"}]}, "mark": {"type": "text", "fontSize": 15, "fontWeight": "bold", "color": "black"}, "encoding": {"x": {"field": "v", "type": "quantitative"}, "y": {"field": "i", "type": "quantitative"}, "text": {"field": "t"}}}
   ]},
  {"width": 289, "height": 213,
   "title": {"text": "(d)", "anchor": "start", "frame": "group", "dx": -80, "dy": 42, "offset": 0, "baseline": "alphabetic", "fontSize": 29, "fontWeight": "normal", "color": "black"},
   "layer": [
    {"data": {"name": "ntr"}, "mark": {"type": "line", "strokeWidth": 1.5}, "encoding": {
      "x": {"field": "s", "type": "quantitative", "scale": {"domain": [0, 0.45], "nice": false}, "axis": {"title": "Sweep rate (mV s⁻¹)", "tickCount": 100, "labelOverlap": false, "values": [0,0.05,0.1,0.15,0.2,0.25,0.3,0.35,0.4,0.45], "labelExpr": "round(datum.value*100) % 10 == 0 ? format(datum.value, '.1f') : ''", "tickSize": {"condition": {"test": "round(datum.value*100) % 10 == 0", "value": 5}, "value": 3}}},
      "y": {"field": "n", "type": "quantitative", "scale": {"domain": [2.3, 3.0], "nice": false, "zero": false}, "axis": {"title": "NTR value", "tickCount": 100, "labelOverlap": false, "values": [2.3,2.35,2.4,2.45,2.5,2.55,2.6,2.65,2.7,2.75,2.8,2.85,2.9,2.95,3.0], "labelExpr": "round(datum.value*100) % 10 == 0 ? format(datum.value, '.1f') : ''", "tickSize": {"condition": {"test": "round(datum.value*100) % 10 == 0", "value": 5}, "value": 3}}},
      "color": {"field": "g", "type": "nominal", "scale": {"domain": ["CMG-H","CMG-M","CMG-L"], "range": ["#ee3a33","#3d8fd6","#2db07c"]}, "legend": null}}},
    {"data": {"name": "ntr"}, "transform": [{"filter": "datum.g == 'CMG-H'"}], "mark": {"type": "point", "shape": "triangle-up", "filled": true, "size": 75, "opacity": 1}, "encoding": {"x": {"field": "s", "type": "quantitative"}, "y": {"field": "n", "type": "quantitative"}, "color": {"field": "g", "type": "nominal", "legend": null}}},
    {"data": {"name": "ntr"}, "transform": [{"filter": "datum.g == 'CMG-M'"}], "mark": {"type": "point", "shape": "circle", "filled": true, "size": 70, "opacity": 1}, "encoding": {"x": {"field": "s", "type": "quantitative"}, "y": {"field": "n", "type": "quantitative"}, "color": {"field": "g", "type": "nominal", "legend": null}}},
    {"data": {"name": "ntr"}, "transform": [{"filter": "datum.g == 'CMG-L'"}], "mark": {"type": "point", "shape": "square", "filled": true, "size": 60, "opacity": 1}, "encoding": {"x": {"field": "s", "type": "quantitative"}, "y": {"field": "n", "type": "quantitative"}, "color": {"field": "g", "type": "nominal", "legend": null}}},
    {"data": {"name": "one"}, "mark": {"type": "rule", "color": "#ee3a33", "strokeWidth": 1.5}, "encoding": {"x": {"datum": 0.0187}, "x2": {"datum": 0.0654}, "y": {"datum": 2.441}}},
    {"data": {"name": "one"}, "mark": {"type": "rule", "color": "#3d8fd6", "strokeWidth": 1.5}, "encoding": {"x": {"datum": 0.0187}, "x2": {"datum": 0.0654}, "y": {"datum": 2.389}}},
    {"data": {"name": "one"}, "mark": {"type": "rule", "color": "#2db07c", "strokeWidth": 1.5}, "encoding": {"x": {"datum": 0.0187}, "x2": {"datum": 0.0654}, "y": {"datum": 2.339}}},
    {"data": {"name": "one"}, "mark": {"type": "point", "shape": "triangle-up", "filled": true, "color": "#ee3a33", "size": 70, "opacity": 1}, "encoding": {"x": {"datum": 0.042}, "y": {"datum": 2.441}}},
    {"data": {"name": "one"}, "mark": {"type": "point", "shape": "circle", "filled": true, "color": "#3d8fd6", "size": 65, "opacity": 1}, "encoding": {"x": {"datum": 0.042}, "y": {"datum": 2.389}}},
    {"data": {"name": "one"}, "mark": {"type": "point", "shape": "square", "filled": true, "color": "#2db07c", "size": 55, "opacity": 1}, "encoding": {"x": {"datum": 0.042}, "y": {"datum": 2.339}}},
    {"data": {"name": "one"}, "mark": {"type": "text", "align": "left", "baseline": "middle", "fontSize": 13, "fontWeight": "bold", "color": "black"}, "encoding": {"x": {"datum": 0.0716}, "y": {"datum": 2.441}, "text": {"value": "CMG-H"}}},
    {"data": {"name": "one"}, "mark": {"type": "text", "align": "left", "baseline": "middle", "fontSize": 13, "fontWeight": "bold", "color": "black"}, "encoding": {"x": {"datum": 0.0716}, "y": {"datum": 2.389}, "text": {"value": "CMG-M"}}},
    {"data": {"name": "one"}, "mark": {"type": "text", "align": "left", "baseline": "middle", "fontSize": 13, "fontWeight": "bold", "color": "black"}, "encoding": {"x": {"datum": 0.0716}, "y": {"datum": 2.339}, "text": {"value": "CMG-L"}}},
    {"data": {"values": [{"s": 0.335, "n": 2.838, "t": "Cₑ₂ of Peak2"}, {"s": 0.335, "n": 2.745, "t": "Cₑ₁ of Peak1"}]}, "mark": {"type": "text", "font": "Liberation Serif", "fontStyle": "italic", "fontWeight": "bold", "fontSize": 23, "color": "black"}, "encoding": {"x": {"field": "s", "type": "quantitative"}, "y": {"field": "n", "type": "quantitative"}, "text": {"field": "t"}}},
    {"data": {"values": [{"s": 0.233, "s2": 0.442, "n": 2.791}]}, "mark": {"type": "rule", "strokeWidth": 1.5, "color": "black"}, "encoding": {"x": {"field": "s", "type": "quantitative"}, "x2": {"field": "s2"}, "y": {"field": "n", "type": "quantitative"}}}
   ]},
  {"width": 289, "height": 213,
   "title": {"text": "(e)", "anchor": "start", "frame": "group", "dx": -80, "dy": 47, "offset": 0, "baseline": "alphabetic", "fontSize": 29, "fontWeight": "normal", "color": "black"},
   "layer": [
    {"data": {"name": "chg"}, "mark": {"type": "line", "strokeWidth": 1.6, "strokeDash": [6, 3]}, "encoding": {
      "x": {"field": "c", "type": "quantitative", "scale": {"domain": [0, 1600], "nice": false}, "axis": {"title": "Specific Capacity (mA h g⁻¹)", "tickCount": 100, "labelOverlap": false, "values": [0,100,200,300,400,500,600,700,800,900,1000,1100,1200,1300,1400,1500,1600], "labelExpr": "datum.value % 200 == 0 ? '' + datum.value : ''", "labelFontSize": 13, "tickSize": {"condition": {"test": "datum.value % 200 == 0", "value": 5}, "value": 3}}},
      "y": {"field": "z", "type": "quantitative", "scale": {"domain": [0, 22], "nice": false}, "axis": {"title": "Reacition Resistance (x10⁵ ohm g⁻¹)", "tickCount": 100, "labelOverlap": false, "titleFontSize": 13, "values": [0,1.5,3,4.5,6,7.5,9,10.5,12,13.5,15,16.5,18,19.5,21], "labelExpr": "datum.value % 3 == 0 ? '' + datum.value : ''", "labelFontSize": 13, "tickSize": {"condition": {"test": "datum.value % 3 == 0", "value": 5}, "value": 3}}},
      "color": {"field": "g", "type": "nominal", "scale": {"domain": ["CMG-H","CMG-M","CMG-L"], "range": ["#ee3a33","#3d8fd6","#2db07c"]}, "legend": null}}},
    {"data": {"name": "chg"}, "transform": [{"filter": "datum.g == 'CMG-L'"}], "mark": {"type": "point", "shape": "square", "filled": true, "size": 55, "opacity": 1}, "encoding": {"x": {"field": "c", "type": "quantitative"}, "y": {"field": "z", "type": "quantitative"}, "color": {"field": "g", "type": "nominal", "legend": null}}},
    {"data": {"name": "chg"}, "transform": [{"filter": "datum.g == 'CMG-M'"}], "mark": {"type": "point", "shape": "triangle-up", "filled": true, "size": 70, "opacity": 1}, "encoding": {"x": {"field": "c", "type": "quantitative"}, "y": {"field": "z", "type": "quantitative"}, "color": {"field": "g", "type": "nominal", "legend": null}}},
    {"data": {"name": "chg"}, "transform": [{"filter": "datum.g == 'CMG-H'"}], "mark": {"type": "point", "shape": "circle", "filled": true, "size": 65, "opacity": 1}, "encoding": {"x": {"field": "c", "type": "quantitative"}, "y": {"field": "z", "type": "quantitative"}, "color": {"field": "g", "type": "nominal", "legend": null}}},
    {"data": {"name": "one"}, "mark": {"type": "rule", "color": "#ee3a33", "strokeWidth": 1.6}, "encoding": {"x": {"datum": 149.5}, "x2": {"datum": 315.6}, "y": {"datum": 20.45}}},
    {"data": {"name": "one"}, "mark": {"type": "rule", "color": "#3d8fd6", "strokeWidth": 1.6}, "encoding": {"x": {"datum": 149.5}, "x2": {"datum": 315.6}, "y": {"datum": 18.9}}},
    {"data": {"name": "one"}, "mark": {"type": "rule", "color": "#2db07c", "strokeWidth": 1.6}, "encoding": {"x": {"datum": 149.5}, "x2": {"datum": 315.6}, "y": {"datum": 17.46}}},
    {"data": {"name": "one"}, "mark": {"type": "point", "shape": "circle", "filled": true, "color": "#ee3a33", "size": 65, "opacity": 1}, "encoding": {"x": {"datum": 232.5}, "y": {"datum": 20.45}}},
    {"data": {"name": "one"}, "mark": {"type": "point", "shape": "triangle-up", "filled": true, "color": "#3d8fd6", "size": 70, "opacity": 1}, "encoding": {"x": {"datum": 232.5}, "y": {"datum": 18.9}}},
    {"data": {"name": "one"}, "mark": {"type": "point", "shape": "square", "filled": true, "color": "#2db07c", "size": 55, "opacity": 1}, "encoding": {"x": {"datum": 232.5}, "y": {"datum": 17.46}}},
    {"data": {"name": "one"}, "mark": {"type": "text", "align": "left", "baseline": "middle", "fontSize": 13, "fontWeight": "bold", "color": "black"}, "encoding": {"x": {"datum": 337.7}, "y": {"datum": 20.45}, "text": {"value": "CMG-H"}}},
    {"data": {"name": "one"}, "mark": {"type": "text", "align": "left", "baseline": "middle", "fontSize": 13, "fontWeight": "bold", "color": "black"}, "encoding": {"x": {"datum": 337.7}, "y": {"datum": 18.9}, "text": {"value": "CMG-M"}}},
    {"data": {"name": "one"}, "mark": {"type": "text", "align": "left", "baseline": "middle", "fontSize": 13, "fontWeight": "bold", "color": "black"}, "encoding": {"x": {"datum": 337.7}, "y": {"datum": 17.46}, "text": {"value": "CMG-L"}}},
    {"data": {"values": [{"c": 1238, "z": 20.1, "t": "charge process"}]}, "mark": {"type": "text", "fontSize": 16, "fontWeight": "bold", "color": "black"}, "encoding": {"x": {"field": "c", "type": "quantitative"}, "y": {"field": "z", "type": "quantitative"}, "text": {"field": "t"}}}
   ]},
  {"width": 289, "height": 213,
   "title": {"text": "(f)", "anchor": "start", "frame": "group", "dx": -77, "dy": 47, "offset": 0, "baseline": "alphabetic", "fontSize": 29, "fontWeight": "normal", "color": "black"},
   "layer": [
    {"data": {"name": "dis"}, "mark": {"type": "line", "strokeWidth": 1.6, "strokeDash": [6, 3]}, "encoding": {
      "x": {"field": "c", "type": "quantitative", "scale": {"domain": [0, 1600], "nice": false}, "axis": {"title": "Specific Capacity (mA h g⁻¹)", "tickCount": 100, "labelOverlap": false, "values": [0,100,200,300,400,500,600,700,800,900,1000,1100,1200,1300,1400,1500,1600], "labelExpr": "datum.value % 200 == 0 ? '' + datum.value : ''", "labelFontSize": 13, "tickSize": {"condition": {"test": "datum.value % 200 == 0", "value": 5}, "value": 3}}},
      "y": {"field": "z", "type": "quantitative", "scale": {"domain": [0, 45], "nice": false}, "axis": {"title": "Reacition Resistance (x10⁵ ohm g⁻¹)", "tickCount": 100, "labelOverlap": false, "titleFontSize": 13, "values": [0,2.5,5,7.5,10,12.5,15,17.5,20,22.5,25,27.5,30,32.5,35,37.5,40,42.5,45], "labelExpr": "datum.value % 5 == 0 ? '' + datum.value : ''", "labelFontSize": 13, "tickSize": {"condition": {"test": "datum.value % 5 == 0", "value": 5}, "value": 3}}},
      "color": {"field": "g", "type": "nominal", "scale": {"domain": ["CMG-H","CMG-M","CMG-L"], "range": ["#ee3a33","#3d8fd6","#2db07c"]}, "legend": null}}},
    {"data": {"name": "dis"}, "transform": [{"filter": "datum.g == 'CMG-L'"}], "mark": {"type": "point", "shape": "square", "filled": true, "size": 55, "opacity": 1}, "encoding": {"x": {"field": "c", "type": "quantitative"}, "y": {"field": "z", "type": "quantitative"}, "color": {"field": "g", "type": "nominal", "legend": null}}},
    {"data": {"name": "dis"}, "transform": [{"filter": "datum.g == 'CMG-M'"}], "mark": {"type": "point", "shape": "triangle-up", "filled": true, "size": 70, "opacity": 1}, "encoding": {"x": {"field": "c", "type": "quantitative"}, "y": {"field": "z", "type": "quantitative"}, "color": {"field": "g", "type": "nominal", "legend": null}}},
    {"data": {"name": "dis"}, "transform": [{"filter": "datum.g == 'CMG-H'"}], "mark": {"type": "point", "shape": "circle", "filled": true, "size": 65, "opacity": 1}, "encoding": {"x": {"field": "c", "type": "quantitative"}, "y": {"field": "z", "type": "quantitative"}, "color": {"field": "g", "type": "nominal", "legend": null}}},
    {"data": {"name": "one"}, "mark": {"type": "rule", "color": "#ee3a33", "strokeWidth": 1.6, "strokeDash": [7, 3]}, "encoding": {"x": {"datum": 33.2}, "x2": {"datum": 199.3}, "y": {"datum": 42.68}}},
    {"data": {"name": "one"}, "mark": {"type": "rule", "color": "#3d8fd6", "strokeWidth": 1.6, "strokeDash": [7, 3]}, "encoding": {"x": {"datum": 33.2}, "x2": {"datum": 199.3}, "y": {"datum": 39.3}}},
    {"data": {"name": "one"}, "mark": {"type": "rule", "color": "#2db07c", "strokeWidth": 1.6, "strokeDash": [7, 3]}, "encoding": {"x": {"datum": 33.2}, "x2": {"datum": 199.3}, "y": {"datum": 36.13}}},
    {"data": {"name": "one"}, "mark": {"type": "point", "shape": "circle", "filled": true, "color": "#ee3a33", "size": 65, "opacity": 1}, "encoding": {"x": {"datum": 116.3}, "y": {"datum": 42.68}}},
    {"data": {"name": "one"}, "mark": {"type": "point", "shape": "triangle-up", "filled": true, "color": "#3d8fd6", "size": 70, "opacity": 1}, "encoding": {"x": {"datum": 116.3}, "y": {"datum": 39.3}}},
    {"data": {"name": "one"}, "mark": {"type": "point", "shape": "square", "filled": true, "color": "#2db07c", "size": 55, "opacity": 1}, "encoding": {"x": {"datum": 116.3}, "y": {"datum": 36.13}}},
    {"data": {"name": "one"}, "mark": {"type": "text", "align": "left", "baseline": "middle", "fontSize": 13, "fontWeight": "bold", "color": "black"}, "encoding": {"x": {"datum": 221.5}, "y": {"datum": 42.68}, "text": {"value": "CMG-H"}}},
    {"data": {"name": "one"}, "mark": {"type": "text", "align": "left", "baseline": "middle", "fontSize": 13, "fontWeight": "bold", "color": "black"}, "encoding": {"x": {"datum": 221.5}, "y": {"datum": 39.3}, "text": {"value": "CMG-M"}}},
    {"data": {"name": "one"}, "mark": {"type": "text", "align": "left", "baseline": "middle", "fontSize": 13, "fontWeight": "bold", "color": "black"}, "encoding": {"x": {"datum": 221.5}, "y": {"datum": 36.13}, "text": {"value": "CMG-L"}}},
    {"data": {"values": [{"c": 1182, "z": 42, "t": "discharge process"}]}, "mark": {"type": "text", "fontSize": 16, "fontWeight": "bold", "color": "black"}, "encoding": {"x": {"field": "c", "type": "quantitative"}, "y": {"field": "z", "type": "quantitative"}, "text": {"field": "t"}}}
   ]}
]
}
